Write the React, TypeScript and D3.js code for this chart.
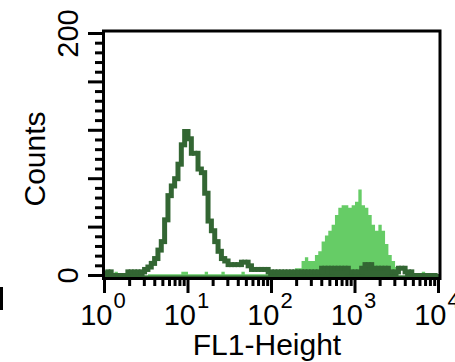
import React from "react";
import * as d3 from "d3";

// FL1 channels, 100 log bins from 10^0 to 10^4
const stained = [
  0, 0, 0, 3, 0, 0, 0, 0, 0, 0,
  0, 0, 0, 1, 1, 1, 1, 1, 1, 1,
  1, 1, 1, 3, 3, 1, 1, 1, 1, 1,
  3, 1, 1, 1, 1, 3, 1, 1, 1, 1,
  1, 3, 1, 1, 1, 1, 1, 1, 1, 1,
  1, 1, 1, 1, 1, 1, 1, 6, 6, 12,
  15, 12, 12, 17, 20, 28, 33, 37, 42, 50,
  56, 58, 58, 56, 58, 61, 71, 58, 56, 50,
  42, 37, 42, 37, 26, 17, 12, 7, 0, 0,
  0, 0, 0, 0, 0, 3, 0, 0, 0, 0,
];

const control = [
  3, 3, 0, 0, 0, 0, 0, 3, 3, 3,
  3, 3, 5, 7, 10, 14, 21, 28, 46, 66,
  74, 80, 92, 108, 119, 113, 101, 101, 88, 85,
  68, 45, 37, 28, 20, 14, 12, 9, 9, 9,
  9, 11, 11, 8, 5, 5, 5, 5, 5, 3,
  3, 3, 3, 3, 3, 3, 3, 3, 3, 3,
  3, 3, 3, 3, 3, 6, 6, 3, 6, 6,
  6, 6, 6, 3, 3, 3, 3, 6, 9, 9,
  6, 6, 6, 6, 6, 3, 3, 3, 6, 6,
  3, 3, 0, 0, 0, 0, 0, 0, 0, 0,
];

const decades = [0, 1, 2, 3, 4];
const countLabels = [0, 200];
const xTitle = "FL1-Height";
const yTitle = "Counts";

const font = "'Liberation Sans', Arial, sans-serif";
const dark = "#336633";
const light = "#66cc66";

export default function App() {
  const width = 455;
  const height = 362;
  const frame = { left: 103.5, right: 440, top: 31, bottom: 278.5 };

  const x = d3.scaleLog().domain([1, 10000]).range([104.5, 438.5]);
  const y = d3.scaleLinear().domain([0, 200]).range([275.5, 33.5]);
  const base = frame.bottom - 1.5;

  const nBins = stained.length;
  const edge = (i: number) => x(Math.pow(10, (4 * i) / nBins));

  // step points: one per bin plus closing point
  const pts = (arr: number[]) =>
    arr.map((v, i) => [edge(i), v] as [number, number]).concat([[edge(nBins), arr[nBins - 1]]]);

  const area = d3
    .area<[number, number]>()
    .x((d) => d[0])
    .y0(base)
    .y1((d) => y(d[1]))
    .curve(d3.curveStepAfter);

  const line = d3
    .line<[number, number]>()
    .x((d) => d[0])
    .y((d) => y(d[1]))
    .curve(d3.curveStepAfter);

  // low-count noise of the control shows as a solid band at the bottom
  const band = control.map((v, i) => (v <= 3 || stained[i] > v ? v : 0));

  const yTicks = d3.range(0, 201, 8);
  const xMinor: number[] = [];
  decades.slice(0, -1).forEach((d) => {
    for (let m = 2; m <= 9; m++) xMinor.push(m * Math.pow(10, d));
  });

  return (
    <svg
      width={width}
      height={height}
      style={{ position: "absolute", left: 0, top: 0, background: "#fff" }}
      fontFamily={font}
    >
      <path d={area(pts(stained)) || ""} fill={light} />
      <path d={area(pts(band)) || ""} fill={dark} />
      <path
        d={line(pts(control)) || ""}
        fill="none"
        stroke={dark}
        strokeWidth={2.8}
        strokeLinecap="square"
      />
      {/* the risers of the outline are drawn heavier, as in the original */}
      {control.slice(1).map((v, i) => (
        <line
          key={"rv" + i}
          x1={edge(i + 1)}
          x2={edge(i + 1)}
          y1={y(control[i])}
          y2={y(v)}
          stroke={dark}
          strokeWidth={5}
          strokeLinecap="square"
        />
      ))}

      {/* frame */}
      <rect
        x={frame.left}
        y={frame.top}
        width={frame.right - frame.left}
        height={frame.bottom - frame.top}
        fill="none"
        stroke="#000"
        strokeWidth={3}
      />

      {/* y ticks */}
      {yTicks.map((t) => (
        <line
          key={"yt" + t}
          x1={t % 40 === 0 ? 88 : 95}
          x2={frame.left}
          y1={y(t)}
          y2={y(t)}
          stroke="#000"
          strokeWidth={3}
        />
      ))}
      {countLabels.map((t) => (
        <text
          key={"yl" + t}
          transform={`translate(78,${y(t)}) rotate(-90)`}
          textAnchor="middle"
          fontSize={29}
        >
          {t}
        </text>
      ))}
      <text transform="translate(45,159) rotate(-90)" textAnchor="middle" fontSize={30}>
        {yTitle}
      </text>

      {/* x ticks */}
      {xMinor.map((v) => (
        <line
          key={"xm" + v}
          x1={x(v)}
          x2={x(v)}
          y1={frame.bottom}
          y2={286}
          stroke="#000"
          strokeWidth={3}
        />
      ))}
      {decades.map((d) => (
        <line
          key={"xM" + d}
          x1={x(Math.pow(10, d))}
          x2={x(Math.pow(10, d))}
          y1={frame.bottom}
          y2={293}
          stroke="#000"
          strokeWidth={3}
        />
      ))}
      {decades.map((d) => (
        <g key={"xl" + d} transform={`translate(${x(Math.pow(10, d))},0)`}>
          <text x={8} y={325} textAnchor="end" fontSize={29}>
            10
          </text>
          <text x={9} y={308} textAnchor="start" fontSize={22}>
            {d}
          </text>
        </g>
      ))}
      <text x={267} y={355} textAnchor="middle" fontSize={30}>
        {xTitle}
      </text>

      {/* edge of the neighbouring panel */}
      <rect x={0} y={287} width={3} height={23} fill="#000" />
    </svg>
  );
}
